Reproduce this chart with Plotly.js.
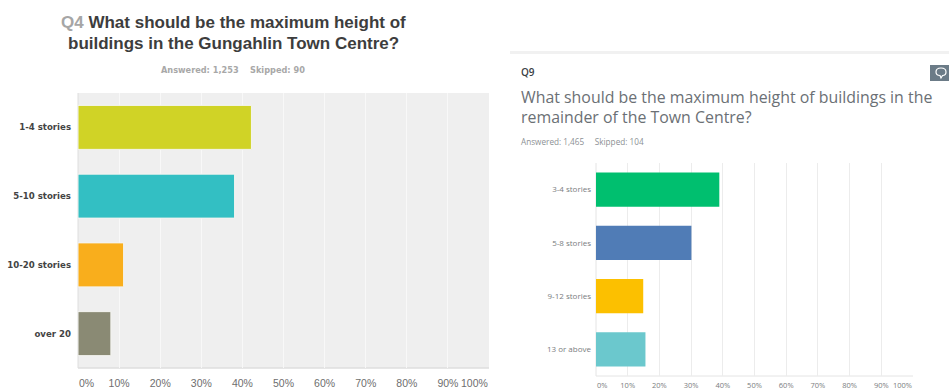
<!DOCTYPE html>
<html>
<head>
<meta charset="utf-8">
<script src="https://cdn.plot.ly/plotly-3.0.1.min.js"></script>
<style>html,body{margin:0;padding:0;background:#fff}#chart{width:949px;height:390px}</style>
</head>
<body>
<div id="chart"></div>
<script>
// Q4: Gungahlin Town Centre
const q4Categories = ['1-4 stories', '5-10 stories', '10-20 stories', 'over 20'];
const q4Percent = [42.2, 38.1, 11.1, 8.0];
const q4Colors = ['#d0d326', '#33bfc3', '#f9ae1c', '#8a8a74'];

// Q9: remainder of the Town Centre
const q9Categories = ['3-4 stories', '5-8 stories', '9-12 stories', '13 or above'];
const q9Percent = [38.9, 30.1, 14.9, 15.6];
const q9Colors = ['#00bf6f', '#507cb6', '#fcc000', '#6bc8cd'];

const tickValues = [0, 10, 20, 30, 40, 50, 60, 70, 80, 90, 100];
const tickLabels = tickValues.map(v => v + '%');
// The two end labels sit inside the plot edges, so they are placed separately.
const innerLabels = tickLabels.map((t, i) => (i === 0 || i === tickLabels.length - 1) ? '' : t);

const W = 949, H = 390;
const px = x => x / W;
const py = y => 1 - y / H;

const leftFont = 'Liberation Sans, Arial, sans-serif';
const rightFont = 'Open Sans, sans-serif';

const traces = [
  {type: 'bar', orientation: 'h', x: q4Percent, y: q4Categories, xaxis: 'x', yaxis: 'y', width: 0.64,
   marker: {color: q4Colors, line: {color: '#f4f4f0', width: 1}}, hoverinfo: 'x+y', showlegend: false},
  {type: 'bar', orientation: 'h', x: q9Percent, y: q9Categories, xaxis: 'x2', yaxis: 'y2', width: 0.64,
   marker: {color: q9Colors}, hoverinfo: 'x+y', showlegend: false}
];

function text(x, y, html, size, color, family, anchor, weight) {
  return {xref: 'paper', yref: 'paper', x: px(x), y: py(y), text: html, showarrow: false,
          xanchor: anchor || 'left', yanchor: 'middle', align: anchor || 'left', borderpad: 0,
          font: {size: size, color: color, family: family, weight: weight || 400}};
}
function endLabel(axis, value, label, y, size, color, family, anchor) {
  return {xref: axis, yref: 'paper', x: value, y: py(y), text: label, showarrow: false,
          xanchor: anchor, yanchor: 'middle', borderpad: 0, font: {size: size, color: color, family: family}};
}

// Speech bubble with a small tail, drawn on the comment icon
function bubblePath() {
  const p = (x, y) => px(x) + ',' + py(y);
  return 'M' + p(936, 72) + ' Q' + p(936, 68) + ' ' + p(941, 68) + ' Q' + p(946, 68) + ' ' + p(946, 72) +
         ' Q' + p(946, 75.5) + ' ' + p(942.5, 75.5) + ' L' + p(941, 78) + ' L' + p(940, 75.5) +
         ' Q' + p(936, 75.5) + ' ' + p(936, 72) + ' Z';
}

const layout = {
  width: W, height: H,
  margin: {l: 0, r: 0, t: 0, b: 0},
  paper_bgcolor: '#ffffff',
  plot_bgcolor: 'rgba(0,0,0,0)',
  bargap: 0.36,
  xaxis: {
    domain: [px(78), px(489)], range: [0, 100], anchor: 'y', fixedrange: true,
    tickvals: tickValues, ticktext: innerLabels, ticks: '',
    showgrid: true, gridcolor: '#f8f8f8', gridwidth: 1, zeroline: false,
    showline: false, tickfont: {size: 10.5, color: '#6e6e6e', family: leftFont}, ticklabelstandoff: 7
  },
  yaxis: {
    domain: [py(368), py(93)], autorange: false, range: [3.5, -0.5], anchor: 'x', type: 'category',
    categoryorder: 'array', categoryarray: q4Categories, fixedrange: true,
    showgrid: false, zeroline: false, showline: false, ticks: '',
    tickfont: {size: 8.6, color: '#444444', family: 'DejaVu Sans, sans-serif', weight: 700}, ticklabelstandoff: 6
  },
  xaxis2: {
    domain: [px(596), px(913)], range: [0, 100], anchor: 'y2', fixedrange: true,
    tickvals: tickValues, ticktext: innerLabels, ticks: '',
    showgrid: true, gridcolor: '#ececec', gridwidth: 1, zeroline: false,
    showline: false, tickfont: {size: 7.5, color: '#7a7d80', family: rightFont}, ticklabelstandoff: 3
  },
  yaxis2: {
    domain: [py(376), py(163)], autorange: false, range: [3.5, -0.5], anchor: 'x2', type: 'category',
    categoryorder: 'array', categoryarray: q9Categories, fixedrange: true,
    showgrid: false, zeroline: false, showline: false, ticks: '',
    tickfont: {size: 8, color: '#7a7d80', family: rightFont}, ticklabelstandoff: 4
  },
  shapes: [
    // Grey plot panel and baseline of the Q4 chart
    {type: 'rect', xref: 'paper', yref: 'paper', layer: 'below', x0: px(78), x1: px(489), y0: py(368), y1: py(93),
     fillcolor: '#efefef', line: {width: 0}},
    {type: 'line', xref: 'paper', yref: 'paper', layer: 'below', x0: px(78), x1: px(489), y0: py(368), y1: py(368),
     line: {color: '#dedede', width: 1.5}},
    {type: 'line', xref: 'paper', yref: 'paper', layer: 'below', x0: px(78), x1: px(78), y0: py(368), y1: py(93),
     line: {color: '#dedede', width: 1}},
    // Divider across the top of the Q9 card
    {type: 'rect', xref: 'paper', yref: 'paper', layer: 'below', x0: px(510), x1: 1, y0: py(54), y1: py(51),
     fillcolor: '#f1f1f1', line: {width: 0}},
    // Q9 axis lines
    {type: 'line', xref: 'paper', yref: 'paper', layer: 'below', x0: px(596), x1: px(913), y0: py(376), y1: py(376),
     line: {color: '#e4e4e4', width: 1}},
    {type: 'line', xref: 'paper', yref: 'paper', layer: 'below', x0: px(596), x1: px(596), y0: py(376), y1: py(163),
     line: {color: '#e4e4e4', width: 1}},
    // Comment icon
    {type: 'rect', xref: 'paper', yref: 'paper', x0: px(930), x1: 1, y0: py(81), y1: py(65),
     fillcolor: '#6b7b87', line: {width: 0}},
    {type: 'path', xref: 'paper', yref: 'paper', path: bubblePath(),
     fillcolor: 'rgba(0,0,0,0)', line: {color: '#ffffff', width: 1.2}}
  ],
  annotations: [
    text(233, 22, '<span style="color:#a6a6a6">Q4</span> What should be the maximum height of', 17, '#3d3d3d', leftFont, 'center', 700),
    text(233, 43, 'buildings in the Gungahlin Town Centre?', 17, '#3d3d3d', leftFont, 'center', 700),
    text(233, 70, 'Answered: 1,253&nbsp;&nbsp;&nbsp;&nbsp;Skipped: 90', 8.2, '#a8a8a8', 'DejaVu Sans, sans-serif', 'center', 700),
    text(520, 72, 'Q9', 10, '#3a3f44', rightFont, 'left', 600),
    text(520, 97, 'What should be the maximum height of buildings in the', 15.9, '#6b7075', rightFont),
    text(520, 117, 'remainder of the Town Centre?', 15.9, '#6b7075', rightFont),
    text(520, 141, 'Answered: 1,465&nbsp;&nbsp;&nbsp;&nbsp;&nbsp;Skipped: 104', 8.2, '#8c9094', rightFont),
    endLabel('x', 0, tickLabels[0], 383, 10.5, '#6e6e6e', leftFont, 'left'),
    endLabel('x', 100, tickLabels[10], 383, 10.5, '#6e6e6e', leftFont, 'right'),
    endLabel('x2', 0, tickLabels[0], 384.5, 7.5, '#7a7d80', rightFont, 'left'),
    endLabel('x2', 100, tickLabels[10], 384.5, 7.5, '#7a7d80', rightFont, 'right')
  ]
};

Plotly.newPlot('chart', traces, layout, {displayModeBar: false, responsive: false});
</script>
</body>
</html>
